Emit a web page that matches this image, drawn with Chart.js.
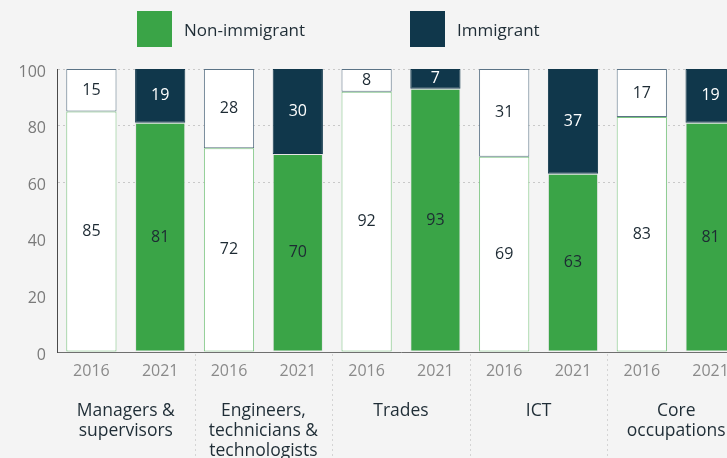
<!DOCTYPE html>
<html>
<head>
<meta charset="utf-8">
<script src="https://cdn.jsdelivr.net/npm/chart.js"></script>
<style>
  html, body { margin:0; padding:0; background:#f4f4f4; width:727px; height:458px; overflow:hidden; }
  #wrap { position:relative; width:727px; height:458px; overflow:hidden; }
  #chart { position:absolute; left:0; top:0; }
  .lg { position:absolute; top:11px; display:flex; align-items:center; font-family:"Open Sans", sans-serif; font-size:17px; color:#1f2d36; }
  .lg span { display:inline-block; width:35px; height:36px; margin-right:12px; }
</style>
</head>
<body>
<div id="wrap">
  <canvas id="chart" width="750" height="470"></canvas>
  <div class="lg" style="left:137px;"><span style="background:#3aa447"></span>Non-immigrant</div>
  <div class="lg" style="left:410px;"><span style="background:#10374b"></span>Immigrant</div>
</div>
<script>
const years = ['2016','2021','2016','2021','2016','2021','2016','2021','2016','2021'];
const groups = [['Managers &','supervisors'], ['Engineers,','technicians &','technologists'], ['Trades'], ['ICT'], ['Core','occupations']];
const nonImmigrant = [85, 81, 72, 70, 92, 93, 69, 63, 83, 81];
const immigrant = [15, 19, 28, 30, 8, 7, 31, 37, 17, 19];

const GREEN = '#3aa447', NAVY = '#10374b';
const is2016 = i => years[i] === '2016';

// numbers in the middle of each segment
const segLabels = {
  id: 'segLabels',
  afterDatasetsDraw(chart) {
    const ctx = chart.ctx;
    ctx.save();
    ctx.font = '16px "Open Sans", sans-serif';
    ctx.textAlign = 'center';
    ctx.textBaseline = 'middle';
    chart.data.datasets.forEach((ds, di) => {
      chart.getDatasetMeta(di).data.forEach((bar, i) => {
        ctx.fillStyle = (di === 1 && !is2016(i)) ? '#ffffff' : '#1d2a33';
        ctx.fillText(ds.data[i], bar.x, (bar.y + bar.base) / 2);
      });
    });
    ctx.restore();
  }
};

// dotted separators between occupation groups, below the axis
const groupSeps = {
  id: 'groupSeps',
  afterDraw(chart) {
    const x = chart.scales.x, ctx = chart.ctx;
    ctx.save();
    ctx.strokeStyle = '#d4d4d4';
    ctx.setLineDash([2, 3]);
    for (let i = 2; i < years.length; i += 2) {
      const px = Math.round((x.getPixelForTick(i - 1) + x.getPixelForTick(i)) / 2) + 0.5;
      ctx.beginPath();
      ctx.moveTo(px, chart.chartArea.bottom + 2);
      ctx.lineTo(px, chart.height);
      ctx.stroke();
    }
    ctx.restore();
  }
};

new Chart(document.getElementById('chart'), {
  type: 'bar',
  data: {
    labels: years,
    datasets: [
      {
        label: 'Non-immigrant',
        data: nonImmigrant,
        backgroundColor: years.map((y, i) => is2016(i) ? '#ffffff' : GREEN),
        borderColor: years.map((y, i) => is2016(i) ? '#7cc580' : '#e6e6e6'),
        borderWidth: 1,
        borderSkipped: false
      },
      {
        label: 'Immigrant',
        data: immigrant,
        backgroundColor: years.map((y, i) => is2016(i) ? '#ffffff' : NAVY),
        borderColor: years.map((y, i) => is2016(i) ? '#5b7386' : NAVY),
        borderWidth: 1,
        borderSkipped: false
      }
    ]
  },
  options: {
    responsive: false,
    devicePixelRatio: 1,
    animation: false,
    barPercentage: 0.73,
    categoryPercentage: 1,
    layout: { padding: { top: 69, right: 5, left: 0, bottom: 0 } },
    plugins: { legend: { display: false }, tooltip: { enabled: false } },
    scales: {
      x: {
        stacked: true,
        afterFit: s => { s.height = 38; },
        grid: { drawOnChartArea: false, drawTicks: false },
        border: { color: '#6f6f6f', width: 1 },
        ticks: { color: '#8a8a8a', padding: 10, font: { family: 'Open Sans', size: 16 } }
      },
      x2: {
        type: 'category',
        position: 'bottom',
        labels: groups,
        offset: true,
        weight: 1,
        afterFit: s => { s.height = 80; },
        grid: { display: false },
        border: { display: false },
        ticks: { color: '#1f2d36', padding: 3, font: { family: 'Open Sans', size: 17.5, lineHeight: 1.15 } }
      },
      y: {
        stacked: true,
        min: 0,
        max: 100,
        afterFit: s => { s.width = 57; },
        grid: {
          drawTicks: false,
          color: c => (c.tick && c.tick.value >= 60) ? '#c9c9c9' : 'rgba(0,0,0,0)'
        },
        border: { color: '#4a4a4a', width: 1, dash: [2, 3] },
        ticks: { stepSize: 20, color: '#7a7a7a', padding: 11, labelOffset: 3, font: { family: 'Open Sans', size: 16 } }
      }
    }
  },
  plugins: [segLabels, groupSeps]
});
</script>
</body>
</html>
